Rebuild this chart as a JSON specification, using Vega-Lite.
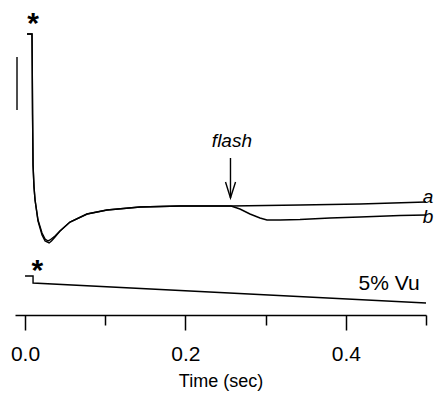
{
  "$schema": "https://vega.github.io/schema/vega-lite/v6.json",
  "width": 411,
  "height": 315,
  "autosize": {"type": "none"},
  "padding": {"left": 15, "top": 0, "right": 13, "bottom": 96},
  "background": "white",
  "config": {"view": {"stroke": null}, "font": "Liberation Sans"},
  "datasets": {
    "traces": [
      {"series": "a", "i": 1, "t": 0.0025, "v": 281},
      {"series": "a", "i": 2, "t": 0.0087, "v": 281},
      {"series": "a", "i": 3, "t": 0.0090, "v": 250},
      {"series": "a", "i": 4, "t": 0.0094, "v": 200},
      {"series": "a", "i": 5, "t": 0.0100, "v": 150},
      {"series": "a", "i": 6, "t": 0.0112, "v": 128},
      {"series": "a", "i": 7, "t": 0.0125, "v": 115},
      {"series": "a", "i": 8, "t": 0.0162, "v": 95},
      {"series": "a", "i": 9, "t": 0.0212, "v": 82},
      {"series": "a", "i": 10, "t": 0.0250, "v": 76},
      {"series": "a", "i": 11, "t": 0.0287, "v": 74},
      {"series": "a", "i": 12, "t": 0.0312, "v": 75},
      {"series": "a", "i": 13, "t": 0.0374, "v": 79},
      {"series": "a", "i": 14, "t": 0.0436, "v": 84},
      {"series": "a", "i": 15, "t": 0.0561, "v": 93},
      {"series": "a", "i": 16, "t": 0.0773, "v": 101},
      {"series": "a", "i": 17, "t": 0.1022, "v": 105},
      {"series": "a", "i": 18, "t": 0.1434, "v": 108},
      {"series": "a", "i": 19, "t": 0.1933, "v": 109},
      {"series": "a", "i": 20, "t": 0.2569, "v": 109},
      {"series": "a", "i": 21, "t": 0.3429, "v": 110},
      {"series": "a", "i": 22, "t": 0.4177, "v": 111},
      {"series": "a", "i": 23, "t": 0.5000, "v": 113},
      {"series": "b", "i": 1, "t": 0.0025, "v": 281},
      {"series": "b", "i": 2, "t": 0.0087, "v": 281},
      {"series": "b", "i": 3, "t": 0.0090, "v": 250},
      {"series": "b", "i": 4, "t": 0.0094, "v": 200},
      {"series": "b", "i": 5, "t": 0.0100, "v": 150},
      {"series": "b", "i": 6, "t": 0.0112, "v": 128},
      {"series": "b", "i": 7, "t": 0.0125, "v": 115},
      {"series": "b", "i": 8, "t": 0.0162, "v": 94},
      {"series": "b", "i": 9, "t": 0.0212, "v": 80},
      {"series": "b", "i": 10, "t": 0.0250, "v": 74},
      {"series": "b", "i": 11, "t": 0.0300, "v": 72},
      {"series": "b", "i": 12, "t": 0.0330, "v": 74},
      {"series": "b", "i": 13, "t": 0.0374, "v": 78},
      {"series": "b", "i": 14, "t": 0.0436, "v": 84},
      {"series": "b", "i": 15, "t": 0.0561, "v": 93},
      {"series": "b", "i": 16, "t": 0.0773, "v": 101},
      {"series": "b", "i": 17, "t": 0.1022, "v": 105},
      {"series": "b", "i": 18, "t": 0.1434, "v": 108},
      {"series": "b", "i": 19, "t": 0.1933, "v": 109},
      {"series": "b", "i": 20, "t": 0.2569, "v": 109},
      {"series": "b", "i": 21, "t": 0.2680, "v": 106},
      {"series": "b", "i": 22, "t": 0.2805, "v": 101},
      {"series": "b", "i": 23, "t": 0.2930, "v": 97},
      {"series": "b", "i": 24, "t": 0.3017, "v": 95},
      {"series": "b", "i": 25, "t": 0.3180, "v": 95},
      {"series": "b", "i": 26, "t": 0.3429, "v": 95.5},
      {"series": "b", "i": 27, "t": 0.3803, "v": 97},
      {"series": "b", "i": 28, "t": 0.4177, "v": 98},
      {"series": "b", "i": 29, "t": 0.4676, "v": 99.5},
      {"series": "b", "i": 30, "t": 0.5000, "v": 100},
      {"series": "vu", "i": 1, "t": 0.0000, "v": 39},
      {"series": "vu", "i": 2, "t": 0.0100, "v": 39},
      {"series": "vu", "i": 3, "t": 0.0100, "v": 32},
      {"series": "vu", "i": 4, "t": 0.5000, "v": 12},
      {"series": "scalebar", "i": 1, "t": -0.0100, "v": 258},
      {"series": "scalebar", "i": 2, "t": -0.0100, "v": 205},
      {"series": "arrow", "i": 1, "t": 0.2562, "v": 157},
      {"series": "arrow", "i": 2, "t": 0.2562, "v": 117},
      {"series": "arrowhead", "i": 1, "t": 0.2500, "v": 133},
      {"series": "arrowhead", "i": 2, "t": 0.2562, "v": 117},
      {"series": "arrowhead", "i": 3, "t": 0.2625, "v": 133}
    ],
    "italic": [
      {"t": 0.2580, "v": 168, "label": "flash", "align": "center"},
      {"t": 0.5025, "v": 112.5, "label": "a", "align": "left"},
      {"t": 0.5025, "v": 92.5, "label": "b", "align": "left"}
    ],
    "stars": [
      {"t": 0.0100, "v": 282.5, "label": "*"},
      {"t": 0.0155, "v": 35.5, "label": "*"}
    ],
    "plain": [
      {"t": 0.4920, "v": 25, "label": "5% Vu"}
    ]
  },
  "layer": [
    {
      "data": {"name": "traces"},
      "mark": {"type": "line", "color": "black", "strokeWidth": 1.4, "clip": false},
      "encoding": {
        "x": {
          "field": "t", "type": "quantitative",
          "scale": {"domain": [-0.0125, 0.5], "nice": false, "zero": false},
          "axis": {
            "title": "Time (sec)",
            "values": [0, 0.1, 0.2, 0.3, 0.4, 0.5],
            "labelExpr": "(round(datum.value*10) % 2 == 0 && datum.value < 0.45) ? format(datum.value, '.1f') : ''",
            "labelFlush": false,
            "labelOverlap": false,
            "labelFontSize": 21,
            "labelColor": "black",
            "labelPadding": 13,
            "titleFontSize": 18,
            "titleFontWeight": "normal",
            "titleColor": "black",
            "titlePadding": 8,
            "domainColor": "black",
            "domainWidth": 1.5,
            "tickColor": "black",
            "tickWidth": 1.5,
            "tickSize": {"condition": {"test": "round(datum.value*10) % 2 == 1", "value": 10}, "value": 15},
            "grid": false
          }
        },
        "y": {
          "field": "v", "type": "quantitative",
          "scale": {"domain": [0, 315], "nice": false, "zero": false},
          "axis": null
        },
        "detail": {"field": "series", "type": "nominal"},
        "order": {"field": "i", "type": "quantitative"}
      }
    },
    {
      "data": {"name": "italic"},
      "mark": {"type": "text", "fontStyle": "italic", "fontSize": 19, "baseline": "alphabetic", "color": "black", "clip": false},
      "encoding": {
        "x": {"field": "t", "type": "quantitative"},
        "y": {"field": "v", "type": "quantitative"},
        "text": {"field": "label"},
        "align": {"field": "align", "type": "nominal", "scale": null}
      }
    },
    {
      "data": {"name": "stars"},
      "mark": {"type": "text", "fontSize": 30, "fontWeight": "bold", "baseline": "alphabetic", "align": "center", "color": "black"},
      "encoding": {
        "x": {"field": "t", "type": "quantitative"},
        "y": {"field": "v", "type": "quantitative"},
        "text": {"field": "label"}
      }
    },
    {
      "data": {"name": "plain"},
      "mark": {"type": "text", "fontSize": 21, "baseline": "alphabetic", "align": "right", "color": "black"},
      "encoding": {
        "x": {"field": "t", "type": "quantitative"},
        "y": {"field": "v", "type": "quantitative"},
        "text": {"field": "label"}
      }
    }
  ]
}
